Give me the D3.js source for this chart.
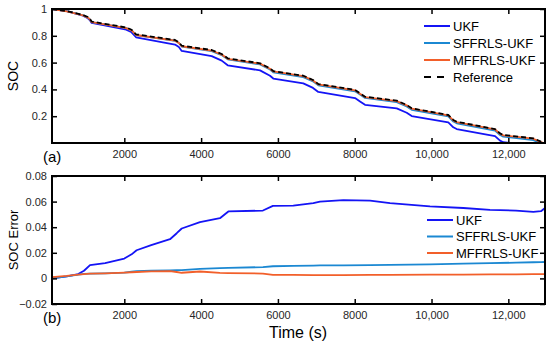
<!DOCTYPE html>
<html>
<head>
<meta charset="utf-8">
<script src="https://cdn.jsdelivr.net/npm/d3@7"></script>
<style>
    body { margin: 0; background: #fff; }
    svg { display: block; font-family: Arial, 'Liberation Sans', sans-serif; }
</style>
</head>
<body>
<svg id="chart" width="550" height="348"></svg>
<script>
// (a) SOC vs time
const socTime = [117, 500, 900, 1050, 1100, 1150, 2050, 2190, 2305, 3320, 3420, 3495, 4276, 4536, 4692,
    5534, 5794, 5880, 6661, 6914, 7052, 8008, 8138, 8268, 9094, 9354, 9484, 10437, 10567, 10655,
    11654, 11784, 11870, 12651, 12850, 12955]
const socRef = [1.000, 0.985, 0.958, 0.940, 0.928, 0.906, 0.862, 0.845, 0.811, 0.769, 0.752, 0.726, 0.694, 0.664, 0.632,
    0.595, 0.557, 0.537, 0.502, 0.470, 0.440, 0.396, 0.371, 0.346, 0.316, 0.284, 0.259, 0.209, 0.172, 0.159,
    0.104, 0.072, 0.060, 0.035, 0.010, 0.000]
const socUkf = [1.000, 0.984, 0.953, 0.931, 0.918, 0.896, 0.846, 0.826, 0.789, 0.735, 0.716, 0.687, 0.648, 0.615, 0.580,
    0.542, 0.502, 0.481, 0.445, 0.411, 0.381, 0.335, 0.310, 0.285, 0.258, 0.226, 0.201, 0.154, 0.117, 0.104,
    0.051, 0.018, 0.006, -0.017, -0.043, -0.055]
const socSffrls = [1.000, 0.984, 0.955, 0.936, 0.924, 0.902, 0.857, 0.840, 0.805, 0.763, 0.746, 0.720, 0.686, 0.656, 0.624,
    0.586, 0.548, 0.527, 0.492, 0.460, 0.430, 0.386, 0.361, 0.336, 0.305, 0.273, 0.248, 0.198, 0.160, 0.147,
    0.092, 0.060, 0.048, 0.022, -0.003, -0.013]
const socMffrls = [0.999, 0.983, 0.955, 0.936, 0.924, 0.902, 0.857, 0.840, 0.806, 0.764, 0.747, 0.722, 0.690, 0.660, 0.628,
    0.592, 0.554, 0.534, 0.499, 0.467, 0.437, 0.393, 0.368, 0.343, 0.313, 0.281, 0.256, 0.206, 0.169, 0.156,
    0.101, 0.069, 0.057, 0.032, 0.007, -0.003]

// (b) SOC error vs time
const errTime = [117, 500, 800, 950, 1107, 1500, 2000, 2190, 2320, 2700, 3190, 3365, 3495, 3970, 4490, 4710,
    5610, 5870, 6400, 6922, 7096, 7703, 8400, 8919, 9960, 10828, 11523, 12200, 12651, 12850, 12955]
const errUkf = [0.000, 0.0015, 0.0034, 0.006, 0.0104, 0.012, 0.0155, 0.0188, 0.022, 0.026, 0.0306, 0.0353, 0.039, 0.044, 0.047, 0.0523,
    0.053, 0.0567, 0.0568, 0.0588, 0.060, 0.0612, 0.0607, 0.0588, 0.0562, 0.055, 0.0536, 0.053, 0.052, 0.0525, 0.055]
const errSffrls = [0.000, 0.0015, 0.003, 0.0035, 0.0038, 0.004, 0.0045, 0.0052, 0.0056, 0.006, 0.0063, 0.0065, 0.0065, 0.0075, 0.008, 0.0083,
    0.0088, 0.0095, 0.0098, 0.0100, 0.0101, 0.0102, 0.0104, 0.0106, 0.011, 0.0115, 0.0119, 0.0123, 0.0126, 0.0127, 0.0128]
const errMffrls = [0.001, 0.002, 0.003, 0.0034, 0.0037, 0.004, 0.0045, 0.0048, 0.005, 0.0055, 0.0057, 0.005, 0.0044, 0.0054, 0.0043, 0.0041,
    0.0038, 0.0027, 0.0027, 0.0026, 0.0026, 0.0026, 0.0027, 0.0027, 0.0029, 0.003, 0.0031, 0.0032, 0.0033, 0.0034, 0.0034]

const xTicks = [2000, 4000, 6000, 8000, 10000, 12000]
const socTicks = [0.2, 0.4, 0.6, 0.8, 1]
const errTicks = [-0.02, 0, 0.02, 0.04, 0.06, 0.08]

const colors = { ukf: '#1414f5', sffrls: '#1b88d2', mffrls: '#f25f2a', ref: '#000' }

const svg = d3.select('#chart')
const left = 52, right = 545

const x = d3.scaleLinear()
    .domain(d3.extent(socTime))
    .range([left, right])

function fmtX(d) {
    return d >= 10000 ? d3.format(',')(d) : String(d)
}
function fmtY(d) {
    if (d === 0) return '0'
    const s = d3.format('.2~f')(Math.abs(d))
    return (d < 0 ? '\u2212' : '') + s.replace(/^1\.0*$/, '1')
}

function panel(opts) {
    const g = svg.append('g')
    const y = d3.scaleLinear().domain(opts.domain).range([opts.bottom, opts.top])

    g.append('clipPath').attr('id', opts.id)
        .append('rect')
        .attr('x', left).attr('y', opts.top)
        .attr('width', right - left).attr('height', opts.bottom - opts.top)

    // series
    const line = d3.line()
        .x(d => x(d[0]))
        .y(d => y(d[1]))
    const lines = g.append('g').attr('clip-path', `url(#${opts.id})`)
    opts.series.forEach(s => {
        lines.append('path')
            .datum(opts.time.map((t, i) => [t, s.values[i]]))
            .attr('fill', 'none')
            .attr('stroke', s.color)
            .attr('stroke-width', 1.8)
            .attr('stroke-dasharray', s.dash || null)
            .attr('stroke-linejoin', 'round')
            .attr('d', line)
    })

    // axes: ticks inside, mirrored on every side (box on)
    const tickFont = sel => sel.attr('font-size', 11).attr('fill', '#262626')
    g.append('g').attr('transform', `translate(0,${opts.bottom})`)
        .call(d3.axisBottom(x).tickValues(xTicks).tickSizeInner(-5).tickSizeOuter(0).tickPadding(7).tickFormat(fmtX))
        .call(a => a.selectAll('text').call(tickFont))
    g.append('g').attr('transform', `translate(0,${opts.top})`)
        .call(d3.axisTop(x).tickValues(xTicks).tickSizeInner(-5).tickSizeOuter(0).tickFormat(''))
    g.append('g').attr('transform', `translate(${left},0)`)
        .call(d3.axisLeft(y).tickValues(opts.ticks).tickSizeInner(-5).tickSizeOuter(0).tickPadding(5).tickFormat(fmtY))
        .call(a => a.selectAll('text').call(tickFont))
    g.append('g').attr('transform', `translate(${right},0)`)
        .call(d3.axisRight(y).tickValues(opts.ticks).tickSizeInner(-5).tickSizeOuter(0).tickFormat(''))
    g.selectAll('.domain').remove()
    g.selectAll('.tick line').attr('stroke', '#000').attr('stroke-width', 1.5)

    g.append('rect')
        .attr('x', left).attr('y', opts.top)
        .attr('width', right - left).attr('height', opts.bottom - opts.top)
        .attr('fill', 'none').attr('stroke', '#000').attr('stroke-width', 2)

    // y label
    g.append('text')
        .attr('transform', `translate(18,${(opts.top + opts.bottom) / 2}) rotate(-90)`)
        .attr('text-anchor', 'middle')
        .attr('font-size', opts.labelSize)
        .text(opts.label)

    // panel tag
    g.append('text')
        .attr('x', 43).attr('y', opts.bottom + 19)
        .attr('font-size', 15)
        .text(opts.tag)

    // legend
    const lg = g.append('g')
    opts.series.forEach((s, i) => {
        const ly = opts.legend.y + i * opts.legend.step
        lg.append('line')
            .attr('x1', opts.legend.x).attr('x2', opts.legend.x + 26)
            .attr('y1', ly).attr('y2', ly)
            .attr('stroke', s.color).attr('stroke-width', 2)
            .attr('stroke-dasharray', s.dash ? '7,6' : null)
        lg.append('text')
            .attr('x', opts.legend.x + 29).attr('y', ly)
            .attr('dy', '0.36em')
            .attr('font-size', 13)
            .text(s.name)
    })
}

panel({
    id: 'clipA', top: 9, bottom: 143, domain: [0, 1], ticks: socTicks,
    label: 'SOC', labelSize: 14, tag: '(a)', time: socTime,
    legend: { x: 424, y: 26, step: 17 },
    series: [
        { name: 'UKF', color: colors.ukf, values: socUkf },
        { name: 'SFFRLS-UKF', color: colors.sffrls, values: socSffrls },
        { name: 'MFFRLS-UKF', color: colors.mffrls, values: socMffrls },
        { name: 'Reference', color: colors.ref, values: socRef, dash: '5,3' }
    ]
})

panel({
    id: 'clipB', top: 176, bottom: 304, domain: [-0.02, 0.08], ticks: errTicks,
    label: 'SOC Error', labelSize: 13, tag: '(b)', time: errTime,
    legend: { x: 427, y: 220, step: 16.5 },
    series: [
        { name: 'UKF', color: colors.ukf, values: errUkf },
        { name: 'SFFRLS-UKF', color: colors.sffrls, values: errSffrls },
        { name: 'MFFRLS-UKF', color: colors.mffrls, values: errMffrls }
    ]
})

svg.append('text')
    .attr('x', 298).attr('y', 338)
    .attr('text-anchor', 'middle')
    .attr('font-size', 16)
    .text('Time (s)')
</script>
</body>
</html>
